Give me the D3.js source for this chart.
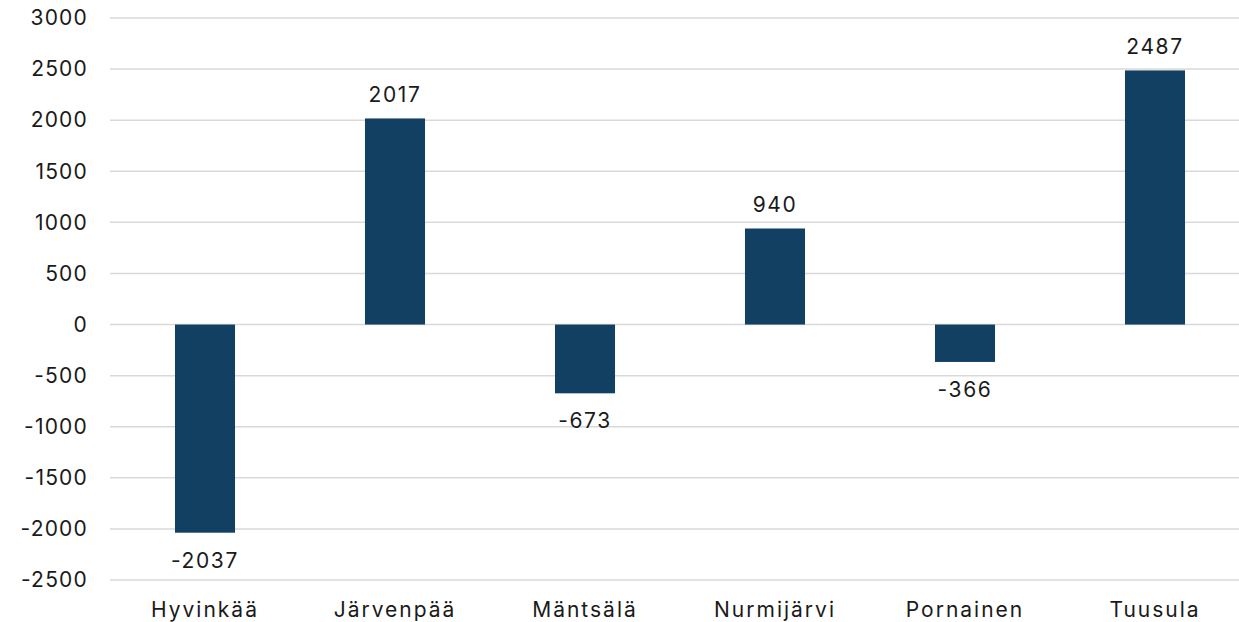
<!DOCTYPE html>
<html>
<head>
<meta charset="utf-8">
<script src="https://cdn.jsdelivr.net/npm/d3@7"></script>
<style>
  body { margin: 0; background: #fff; }
  text { font-family: Inter, "Noto Sans", sans-serif; fill: #1a1a1a; }
</style>
</head>
<body>
<div id="chart"></div>
<script>
const municipalities = ["Hyvinkää", "Järvenpää", "Mäntsälä", "Nurmijärvi", "Pornainen", "Tuusula"];
const changes = [-2037, 2017, -673, 940, -366, 2487];
const yTicks = [3000, 2500, 2000, 1500, 1000, 500, 0, -500, -1000, -1500, -2000, -2500];

const width = 1239, height = 622;
const margin = {top: 18, right: -11, bottom: 42, left: 110};

const data = municipalities.map((m, i) => ({name: m, value: changes[i]}));

const svg = d3.select("#chart")
    .append("svg")
    .attr("width", width)
    .attr("height", height);

const x = d3.scaleBand()
    .domain(municipalities)
    .range([margin.left, width - margin.right])
    .paddingInner(0.684)
    .paddingOuter(0.342);

const y = d3.scaleLinear()
    .domain([-2500, 3000])
    .range([height - margin.bottom, margin.top]);

// gridlines
svg.append("g")
    .selectAll("line")
    .data(yTicks)
    .join("line")
    .attr("x1", margin.left)
    .attr("x2", width)
    .attr("y1", d => y(d))
    .attr("y2", d => y(d))
    .attr("stroke", "#d9d9d9")
    .attr("stroke-width", 1.5);

// y axis labels
const yAxis = svg.append("g")
    .attr("transform", `translate(${margin.left},0)`)
    .call(d3.axisLeft(y).tickValues(yTicks).tickSize(0).tickPadding(22).tickFormat(d => String(d)));
yAxis.select(".domain").remove();
yAxis.selectAll("text")
    .style("font-size", "21px")
    .style("font-family", "Inter, sans-serif")
    .style("letter-spacing", "1.2px")
    .attr("fill", "#1a1a1a");

// bars
svg.append("g")
    .selectAll("rect")
    .data(data)
    .join("rect")
    .attr("x", d => x(d.name))
    .attr("y", d => y(Math.max(0, d.value)))
    .attr("width", x.bandwidth())
    .attr("height", d => Math.abs(y(d.value) - y(0)))
    .attr("fill", "#124062");

// value labels
svg.append("g")
    .selectAll("text")
    .data(data)
    .join("text")
    .attr("x", d => x(d.name) + x.bandwidth() / 2)
    .attr("y", d => d.value >= 0 ? y(d.value) - 16 : y(d.value) + 35)
    .attr("text-anchor", "middle")
    .style("font-size", "21px")
    .style("letter-spacing", "1.6px")
    .text(d => d.value);

// category labels
svg.append("g")
    .selectAll("text")
    .data(municipalities)
    .join("text")
    .attr("x", d => x(d) + x.bandwidth() / 2)
    .attr("y", height - 5)
    .attr("text-anchor", "middle")
    .style("font-size", "21px")
    .style("letter-spacing", "2px")
    .text(d => d);
</script>
</body>
</html>
